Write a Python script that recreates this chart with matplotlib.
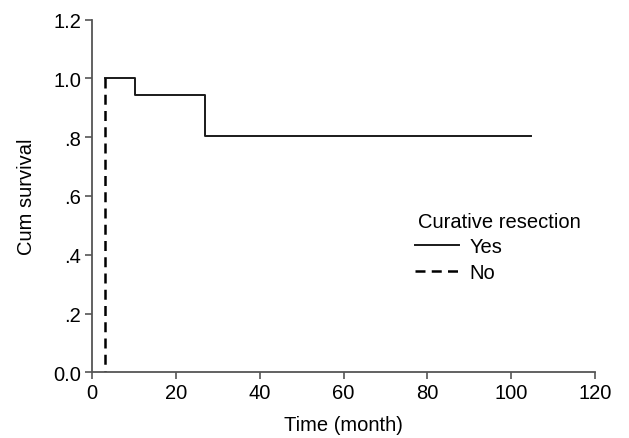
import matplotlib
matplotlib.use("Agg")
import matplotlib.pyplot as plt

plt.rcParams['font.family'] = ['Liberation Sans', 'DejaVu Sans']

# Data
yes_time = [3.0, 10.3, 27.0, 104.8]
yes_surv = [1.0, 0.944, 0.803, 0.803]
no_time = [3.0, 3.0]
no_surv = [1.0, 0.0]

x_ticks = [0, 20, 40, 60, 80, 100, 120]
y_ticks = [0.0, 0.2, 0.4, 0.6, 0.8, 1.0, 1.2]
y_tick_labels = ["0.0", ".2", ".4", ".6", ".8", "1.0", "1.2"]

FS = 14.5

fig = plt.figure(figsize=(6.29, 4.39), dpi=100)
ax = fig.add_axes([92/629, 1 - 373.3/439, (595-92)/629, (373.3-20.7)/439])

ax.step(yes_time, yes_surv, where='post', color='#1a1a1a', lw=1.4, label='Yes')
ax.plot(no_time, no_surv, color='black', lw=1.8, ls=(0, (4.0, 2.5)), label='No')

ax.set_xlim(0, 120)
ax.set_ylim(0, 1.2)
ax.set_xticks(x_ticks)
ax.set_xticklabels([str(t) for t in x_ticks])
ax.set_yticks(y_ticks)
ax.set_yticklabels(y_tick_labels)

for s in ['top', 'right']:
    ax.spines[s].set_visible(False)
for s in ['left', 'bottom']:
    ax.spines[s].set_color('#555555')
    ax.spines[s].set_linewidth(1.3)
ax.tick_params(direction='out', length=5, width=1.2, color='#555555',
               labelsize=FS, labelcolor='black', pad=3)

ax.set_xlabel('Time (month)', fontsize=FS, labelpad=9)
ax.set_ylabel('Cum survival', fontsize=FS, labelpad=12)

leg = ax.legend(title='Curative resection', loc='upper left',
                bbox_to_anchor=((415-92)/503, (373.3-213)/352.6),
                frameon=False, fontsize=FS, title_fontsize=FS,
                handlelength=2.2, handletextpad=0.5, labelspacing=0.32,
                borderpad=0, borderaxespad=0, alignment='left')
leg.get_title().set_position((3, 0))

fig.savefig('out.png', dpi=100)
